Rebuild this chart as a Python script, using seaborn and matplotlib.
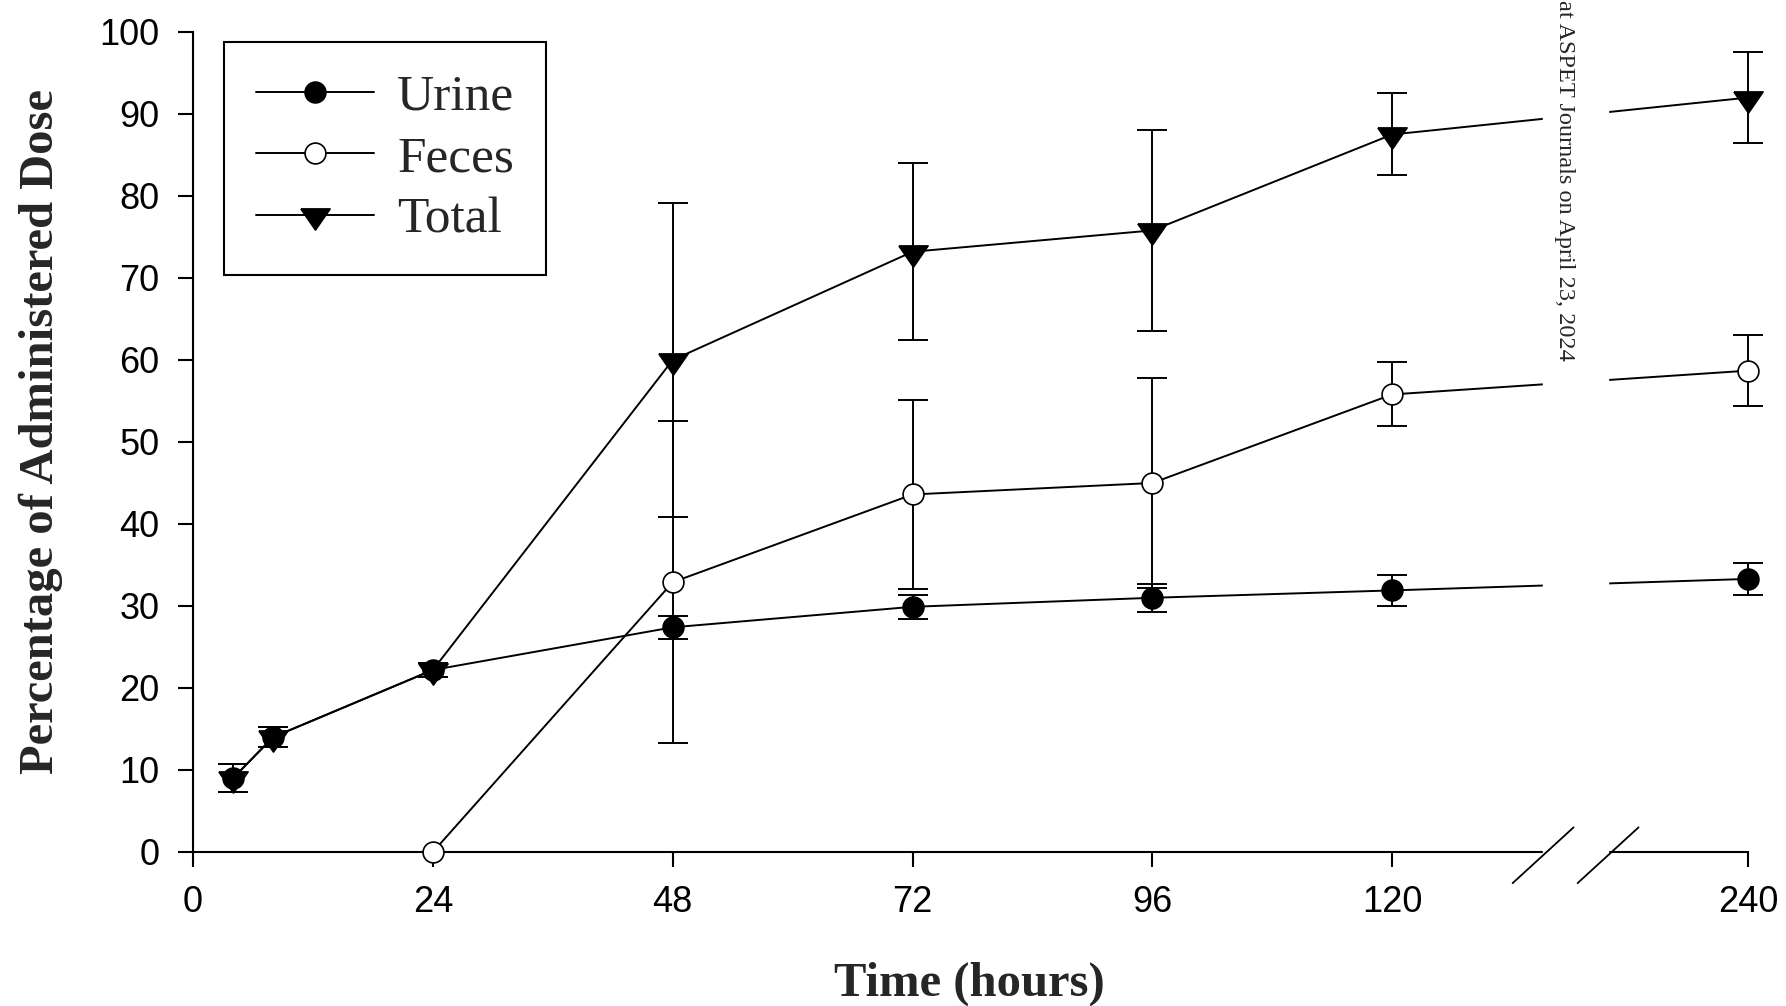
import numpy as np
import matplotlib
matplotlib.use('Agg')
import matplotlib.pyplot as plt
import matplotlib.transforms as mtransforms
import seaborn as sns

# data (mean +/- error, % of dose)
hours = [4, 8, 24, 48, 72, 96, 120, 240]
urine_mean = [9.0, 14.0, 22.2, 27.4, 29.9, 31.0, 31.9, 33.3]
urine_err = [1.7, 1.2, 0.9, 1.4, 1.5, 1.7, 1.9, 2.0]
total_mean = [9.0, 14.0, 22.2, 60.0, 73.2, 75.8, 87.5, 92.0]
total_err = [1.7, 1.2, 0.9, 19.2, 10.8, 12.3, 5.0, 5.5]
feces_hours = [24, 48, 72, 96, 120, 240]
feces_mean = [0.0, 32.9, 43.6, 45.0, 55.8, 58.7]
feces_err = [0.0, 19.6, 11.5, 12.8, 3.9, 4.3]

xticks = [0, 24, 48, 72, 96, 120, 240]
yticks = list(range(0, 101, 10))

# broken x axis: 120 -> 240 squeezed
def xpos(h):
    return np.interp(h, [0, 120, 240], [0, 120, 155.6])

brk_lo, brk_hi = 135.1, 141.6

sns.set_style('ticks')
plt.rcParams['font.family'] = ['Liberation Sans', 'DejaVu Sans']

fig = plt.figure(figsize=(17.86, 10.06), dpi=100)
ax = fig.add_axes([0.1081, 0.1531, 0.8706, 0.8151])

tri = [(-1, 0.45), (1, 0.45), (0, -1.0), (-1, 0.45)]
lw = 1.4

def draw(h, mean, err, label, marker, ms, face, z):
    x = xpos(h)
    m = np.array(err) > 0
    eb = ax.errorbar(x[m], np.array(mean)[m], yerr=np.array(err)[m], fmt='none',
                     ecolor='black', elinewidth=lw, capsize=11, capthick=lw, zorder=z - 1)
    for a in list(eb.lines[1]) + list(eb.lines[2]):
        a.set_clip_on(False)
    sns.lineplot(x=x, y=mean, ax=ax, color='black', lw=lw, marker=marker, markersize=ms,
                 markerfacecolor=face, markeredgecolor='black', markeredgewidth=1.2,
                 label=label, clip_on=False, zorder=z)

draw(feces_hours, feces_mean, feces_err, 'Feces', 'o', 15, 'white', 4)
draw(hours, total_mean, total_err, 'Total', tri, 21, 'black', 6)
draw(hours, urine_mean, urine_err, 'Urine', 'o', 15, 'black', 8)

ax.set_xlim(0, xpos(240))
ax.set_ylim(0, 100)
ax.set_xticks(xpos(xticks))
ax.set_xticklabels([str(t) for t in xticks])
ax.set_yticks(yticks)
ax.tick_params(axis='both', direction='out', length=11, width=1.5, labelsize=26,
               color='black', labelcolor='black', pad=13)
sns.despine(ax=ax)
for s in ['left', 'bottom']:
    ax.spines[s].set_linewidth(1.5)
    ax.spines[s].set_color('black')
ax.set_xlabel('')
ax.set_ylabel('')

# axis break
ax.axvspan(brk_lo, brk_hi, ymin=-0.02, ymax=1.0, color='white', zorder=9, clip_on=False)
trans = mtransforms.blended_transform_factory(ax.transData, ax.transAxes)
for b in (brk_lo, brk_hi):
    ax.plot([b - 3.05, b + 3.05], [-0.038, 0.03], transform=trans, color='black',
            lw=1.3, clip_on=False, zorder=10)

# legend
h, l = ax.get_legend_handles_labels()
order = [l.index(n) for n in ['Urine', 'Feces', 'Total']]
leg = ax.legend([h[i] for i in order], [l[i] for i in order], loc='upper left',
                bbox_to_anchor=(0.1254, 0.9583), bbox_transform=fig.transFigure,
                borderaxespad=0, fancybox=False, framealpha=1, edgecolor='black',
                prop={'family': 'Liberation Serif', 'size': 37},
                handlelength=2.3, handletextpad=0.45, borderpad=0.62, labelspacing=0.28)
leg.get_frame().set_linewidth(1.5)

fig.text(0.543, 0.0219, 'Time (hours)', ha='center', va='center',
         family='Liberation Serif', weight='bold', size=35)
fig.text(0.023, 0.5706, 'Percentage of Administered Dose', ha='center', va='center',
         rotation=90, family='Liberation Serif', weight='bold', size=35)
fig.text(0.876, 1.0, 'at ASPET Journals on April 23, 2024', ha='center', va='top',
         rotation=270, family='Liberation Serif', size=17.5)

fig.savefig('out.png', dpi=100, facecolor='white')
